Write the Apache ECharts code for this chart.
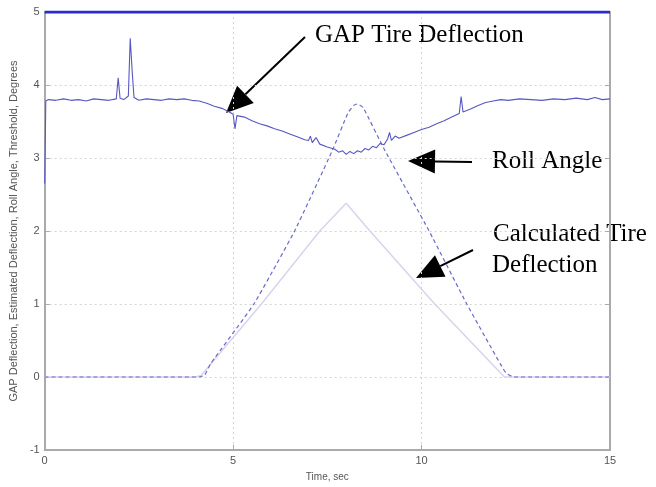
<!DOCTYPE html>
<html>
<head>
<meta charset="utf-8">
<title>GAP Tire Deflection</title>
<script src="https://cdn.jsdelivr.net/npm/echarts@6/dist/echarts.min.js"></script>
<style>
  html, body { margin: 0; padding: 0; background: #fff; }
  #main { width: 656px; height: 487px; }
</style>
</head>
<body>
<div id="main"></div>
<script>
// 数据
var xTicks = [0, 5, 10, 15];
var yTicks = [-1, 0, 1, 2, 3, 4, 5];

// 阈值
var threshold = [[0, 5], [15, 5]];

// GAP 轮胎变形（带噪声）
var gapDeflection = [
  [0, 2.65], [0.03, 3.78], [0.1, 3.80], [0.3, 3.79], [0.5, 3.81], [0.7, 3.79],
  [0.9, 3.80], [1.1, 3.78], [1.3, 3.81], [1.5, 3.80], [1.7, 3.79], [1.9, 3.81],
  [1.95, 4.10], [2.0, 3.82], [2.1, 3.80], [2.22, 3.85], [2.27, 4.64], [2.32, 4.20],
  [2.37, 3.83], [2.5, 3.79], [2.7, 3.81], [2.9, 3.80], [3.1, 3.79], [3.3, 3.81],
  [3.5, 3.80], [3.7, 3.81], [3.9, 3.79], [4.1, 3.78], [4.3, 3.75], [4.5, 3.71],
  [4.7, 3.68], [4.9, 3.63], [5.0, 3.60], [5.05, 3.40], [5.1, 3.58], [5.3, 3.56],
  [5.5, 3.51], [5.7, 3.47], [5.9, 3.44], [6.1, 3.40], [6.3, 3.37], [6.5, 3.33],
  [6.7, 3.29], [6.9, 3.25], [7.0, 3.24], [7.05, 3.30], [7.1, 3.21], [7.2, 3.28],
  [7.3, 3.19], [7.5, 3.15], [7.7, 3.12], [7.8, 3.08], [7.9, 3.10], [8.0, 3.05],
  [8.1, 3.09], [8.2, 3.06], [8.3, 3.10], [8.4, 3.08], [8.5, 3.13], [8.6, 3.11],
  [8.7, 3.16], [8.8, 3.14], [8.9, 3.20], [9.0, 3.18], [9.1, 3.26], [9.15, 3.35],
  [9.2, 3.24], [9.3, 3.30], [9.4, 3.27], [9.6, 3.31], [9.8, 3.35], [10.0, 3.39],
  [10.2, 3.42], [10.4, 3.47], [10.6, 3.51], [10.8, 3.56], [11.0, 3.61], [11.05, 3.84],
  [11.1, 3.63], [11.3, 3.67], [11.5, 3.72], [11.7, 3.76], [11.9, 3.78], [12.1, 3.80],
  [12.3, 3.79], [12.6, 3.81], [12.9, 3.80], [13.2, 3.79], [13.5, 3.81], [13.8, 3.80],
  [14.1, 3.82], [14.4, 3.80], [14.6, 3.83], [14.8, 3.80], [15, 3.81]
];

// 侧倾角（虚线）
var rollAngle = [
  [0, 0], [4.1, 0], [4.25, 0.03], [4.4, 0.18], [5.55, 1.0], [6.63, 2.0],
  [7.63, 3.1], [8.05, 3.62], [8.2, 3.72], [8.3, 3.74], [8.45, 3.69], [9.0, 3.13],
  [10.2, 2.0], [11.2, 1.0], [12.1, 0.17], [12.25, 0.05], [12.45, 0], [15, 0]
];

// 计算的轮胎变形
var calcDeflection = [
  [0, 0], [4.0, 0], [4.15, 0.02], [5.75, 1.0], [7.3, 2.0], [8.0, 2.38],
  [8.63, 2.0], [10.35, 1.0], [12.2, 0], [15, 0]
];

// 箭头（像素坐标的注释）
function arrow(x1, y1, x2, y2) {
  var dx = x2 - x1, dy = y2 - y1;
  var len = Math.sqrt(dx * dx + dy * dy);
  var ux = dx / len, uy = dy / len;
  var headLen = 27, half = 12;
  var bx = x2 - ux * headLen, by = y2 - uy * headLen;
  return {
    type: 'group',
    children: [
      { type: 'line', shape: { x1: x1, y1: y1, x2: bx, y2: by }, style: { stroke: '#000', lineWidth: 2 } },
      { type: 'polygon', shape: { points: [[x2, y2], [bx - uy * half, by + ux * half], [bx + uy * half, by - ux * half]] }, style: { fill: '#000', stroke: null } }
    ]
  };
}

var labelFont = { fontFamily: 'Liberation Serif', fontSize: 25, fill: '#000', verticalAlign: 'middle' };

var myChart = echarts.init(document.getElementById('main'));

var option = {
  animation: false,
  backgroundColor: '#fff',
  grid: { left: 43, right: 46, top: 12, bottom: 37 },
  xAxis: {
    type: 'value',
    min: xTicks[0],
    max: xTicks[xTicks.length - 1],
    interval: 5,
    name: 'Time, sec',
    nameLocation: 'middle',
    nameGap: 22,
    nameTextStyle: { color: '#555', fontSize: 10, fontFamily: 'Liberation Sans' },
    axisLine: { onZero: false, lineStyle: { color: '#aaa', width: 2 } },
    axisTick: { inside: true, length: 5, lineStyle: { color: '#aaa' } },
    axisLabel: { color: '#555', fontSize: 11, margin: 5, fontFamily: 'Liberation Sans' },
    splitLine: { show: true, lineStyle: { color: '#d4d4d4', type: [2, 3] } }
  },
  yAxis: [{
    type: 'value',
    min: yTicks[0],
    max: yTicks[yTicks.length - 1],
    interval: 1,
    name: 'GAP Deflection, Estimated Deflection, Roll Angle, Threshold, Degrees',
    nameLocation: 'middle',
    nameRotate: 90,
    nameGap: 19,
    nameTextStyle: { color: '#555', fontSize: 11, fontFamily: 'Liberation Sans' },
    axisLine: { show: true, onZero: false, lineStyle: { color: '#aaa', width: 2 } },
    axisTick: { show: true, inside: true, length: 5, lineStyle: { color: '#aaa' } },
    axisLabel: { color: '#555', fontSize: 11, margin: 5, fontFamily: 'Liberation Sans' },
    splitLine: { show: true, lineStyle: { color: '#d4d4d4', type: [2, 3] } }
  }, {
    type: 'value',
    position: 'right',
    min: yTicks[0],
    max: yTicks[yTicks.length - 1],
    interval: 1,
    axisLine: { show: true, onZero: false, lineStyle: { color: '#aaa', width: 2 } },
    axisTick: { show: true, inside: true, length: 5, lineStyle: { color: '#aaa' } },
    axisLabel: { show: false },
    splitLine: { show: false }
  }],
  series: [{
    name: 'Calculated Tire Deflection',
    type: 'line',
    data: calcDeflection,
    symbol: 'none',
    lineStyle: { color: '#d9d3ec', width: 1.5 }
  }, {
    name: 'Roll Angle',
    type: 'line',
    data: rollAngle,
    symbol: 'none',
    smooth: 0.15,
    lineStyle: { color: '#6a6acb', width: 1.2, type: [4, 3] }
  }, {
    name: 'GAP Tire Deflection',
    type: 'line',
    data: gapDeflection,
    symbol: 'none',
    lineStyle: { color: '#5858c2', width: 1.1 }
  }, {
    name: 'Threshold',
    type: 'line',
    data: threshold,
    symbol: 'none',
    lineStyle: { color: '#2b2bcc', width: 3 }
  }],
  graphic: [
    { type: 'text', x: 315, y: 35, style: Object.assign({ text: 'GAP Tire Deflection' }, labelFont) },
    { type: 'text', x: 492, y: 161, style: Object.assign({ text: 'Roll Angle' }, labelFont) },
    { type: 'text', x: 493, y: 234, style: Object.assign({ text: 'Calculated Tire' }, labelFont) },
    { type: 'text', x: 492, y: 265, style: Object.assign({ text: 'Deflection' }, labelFont) },
    arrow(305, 37, 226, 113),
    arrow(472, 162, 408, 161),
    arrow(473, 250, 416, 278)
  ]
};

myChart.setOption(option);
</script>
</body>
</html>
